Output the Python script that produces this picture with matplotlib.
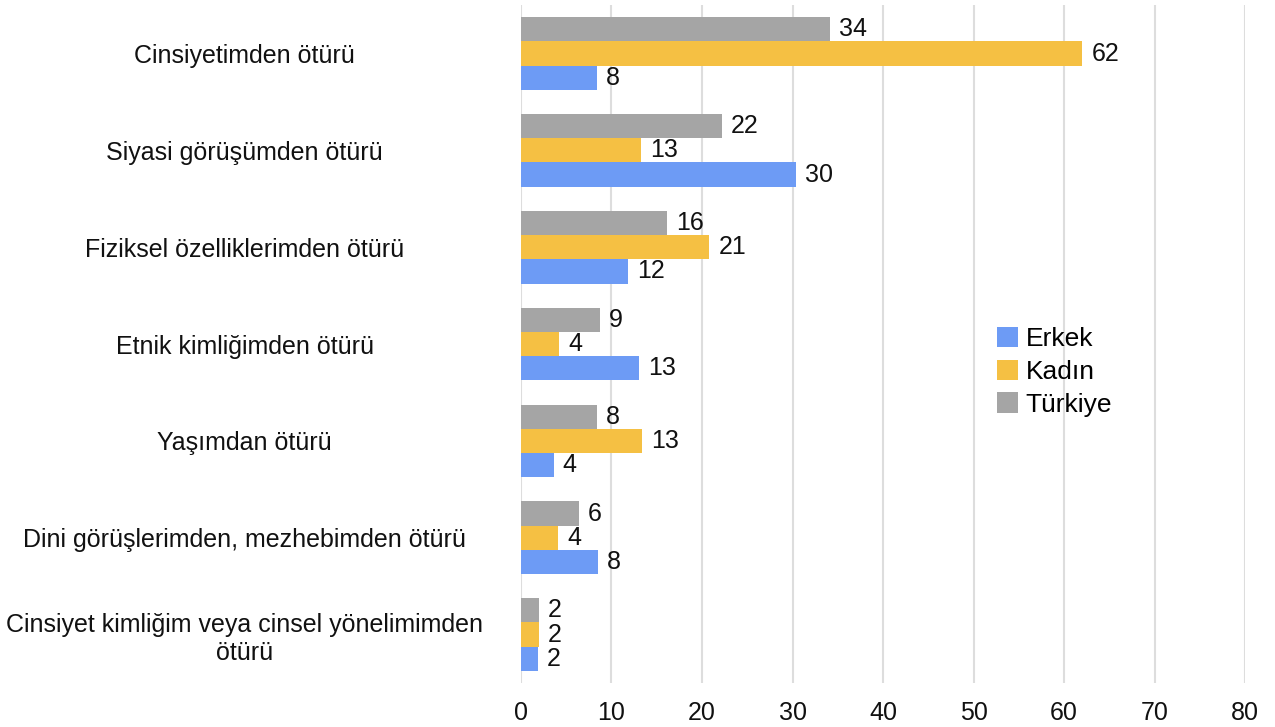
import numpy as np
import matplotlib
matplotlib.use("Agg")
import matplotlib.pyplot as plt

plt.rcParams['font.family'] = ['Liberation Sans', 'DejaVu Sans']

categories = [
    "Cinsiyetimden ötürü",
    "Siyasi görüşümden ötürü",
    "Fiziksel özelliklerimden ötürü",
    "Etnik kimliğimden ötürü",
    "Yaşımdan ötürü",
    "Dini görüşlerimden, mezhebimden ötürü",
    "Cinsiyet kimliğim veya cinsel yönelimimden\nötürü",
]
erkek = [8.4, 30.4, 11.8, 13.0, 3.6, 8.5, 1.9]
kadin = [62.0, 13.3, 20.8, 4.2, 13.4, 4.1, 2.0]
turkiye = [34.1, 22.2, 16.1, 8.7, 8.4, 6.4, 2.0]
series_names = ["Erkek", "Kadın", "Türkiye"]
colors = ["#6D9BF5", "#F5C043", "#A5A5A5"]
xticks = [0, 10, 20, 30, 40, 50, 60, 70, 80]

fig = plt.figure(figsize=(12.75, 7.27), dpi=100)
ax = fig.add_axes([0.4086, 0.0605, 0.568, 0.9325])

y = np.arange(len(categories))
h = 0.25
# gray on top, then yellow, then blue (axis inverted)
series = [erkek, kadin, turkiye]
offsets = [h, 0, -h]
for vals, name, col, off in zip(series, series_names, colors, offsets):
    ax.barh(y + off, vals, height=h, color=col, label=name, zorder=3)
    for yy, v in zip(y + off, vals):
        ax.text(v + 1.0, yy, f"{v:.0f}", va="center", ha="left", fontsize=18, color="#111111", zorder=4)

ax.set_ylim(-0.5, len(categories) - 0.5)
ax.invert_yaxis()
ax.set_xlim(0, 80)
ax.set_xticks(xticks)
ax.set_xticklabels([str(t) for t in xticks], fontsize=18, color="#111111")
ax.set_yticks(y)
ax.set_yticklabels(categories, fontsize=18, color="#111111", ha="center", multialignment="center")
ax.tick_params(axis="y", length=0, pad=199)
ax.tick_params(axis="x", length=0, pad=13)
ax.grid(axis="x", color="#DDDDDD", linewidth=1.5, zorder=0)
for s in ax.spines.values():
    s.set_visible(False)

handles, labels = ax.get_legend_handles_labels()
ax.legend(handles, labels, loc="center left", bbox_to_anchor=(0.657, 0.459), frameon=False,
          fontsize=19, handlelength=0.8, handleheight=0.8, handletextpad=0.3, labelspacing=0.32,
          borderaxespad=0, borderpad=0)

fig.savefig("out.png", dpi=100)
